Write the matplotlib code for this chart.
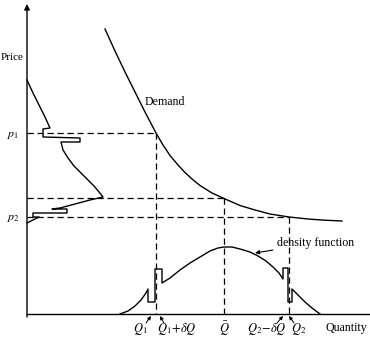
import matplotlib
matplotlib.use("Agg")
import matplotlib.pyplot as plt

plt.rcParams['font.family'] = ['Liberation Serif', 'DejaVu Serif']
plt.rcParams['mathtext.fontset'] = 'stix'

# ---- data (diagram coordinates: x to the right, y downward) ----
demand_x = [105, 115, 125, 135, 145, 156, 163, 170, 178, 185, 192, 200, 212, 224,
            240, 255, 270, 289, 310, 325, 342]
demand_y = [29, 51, 72, 92, 112, 133, 145, 155.5, 165, 172.5, 179, 185.5, 193, 198.5,
            205.5, 210, 214, 217, 219.2, 220.2, 221]

price_dens_x = [27, 33, 39, 45, 50, 43, 43, 80, 80, 61, 63, 68, 74, 80, 87, 94, 99, 103,
                90, 75, 60, 52, 67, 67, 33, 33, 39, 27]
price_dens_y = [80, 93, 105, 117, 128, 129, 137, 138, 142, 142, 150, 158, 166, 172, 179,
                186, 192, 197, 200, 204, 208, 209, 209, 213, 213, 217, 217, 223]

qty_dens_x = [120, 128, 135, 141, 146, 148, 148, 155, 155, 162, 162, 170, 180, 190, 200,
              210, 218, 224, 232, 240, 250, 258, 266, 273, 279, 283, 283, 288, 288, 292,
              292, 298, 305, 312, 320]
qty_dens_y = [314, 311, 306, 300, 293, 289, 302, 302, 269, 269, 283, 278, 270, 263, 257,
              251, 248, 247, 247, 249, 252, 256, 261, 267, 273, 279, 268, 268, 302, 302,
              289, 295, 302, 308, 314]

p_levels = [133, 198, 217]          # p1, modal price, p2
q_levels = [156, 224, 289]          # Q1, Q-bar, Q2
p_labels = [r'$p_1$', r'$p_2$']
q_labels = [r'$Q_1$', r'$Q_1\!+\!\delta Q$', r'$\bar{Q}$', r'$Q_2\!-\!\delta Q$', r'$Q_2$']

base_y = 314
axis_x = 27

fig = plt.figure(figsize=(3.70, 3.45), dpi=100)
ax = fig.add_axes([0, 0, 1, 1])
ax.set_xlim(0, 370)
ax.set_ylim(345, 0)
ax.axis('off')

lw = 1.0
# axes
ax.plot([axis_x, 370], [base_y, base_y], color='k', lw=lw)
ax.annotate('', xy=(axis_x, 4), xytext=(axis_x, 317),
            arrowprops=dict(arrowstyle='-|>', color='k', lw=lw, mutation_scale=8,
                            shrinkA=0, shrinkB=0))

# curves
ax.plot(demand_x, demand_y, color='k', lw=lw)
ax.plot(price_dens_x, price_dens_y, color='k', lw=lw)
ax.plot(qty_dens_x, qty_dens_y, color='k', lw=lw)

# dashed guides
dash = dict(color='k', lw=0.9, ls=(0, (5, 3)))
for py, qx in zip(p_levels, q_levels):
    ax.plot([axis_x, qx], [py, py], **dash)
    ax.plot([qx, qx], [py, base_y], **dash)

fs = 8.6
ax.text(0.5, 58, 'Price', ha='left', va='center', fontsize=fs - 0.6)
ax.text(145, 102, 'Demand', ha='left', va='center', fontsize=fs)
ax.text(13, p_levels[0] + 2, p_labels[0], ha='center', va='center', fontsize=fs)
ax.text(13, p_levels[2] + 1, p_labels[1], ha='center', va='center', fontsize=fs)
ax.text(325, 328, 'Quantity', ha='left', va='center', fontsize=fs)

ax.annotate('density function', xy=(255, 253), xytext=(277, 243), fontsize=fs,
            ha='left', va='center',
            arrowprops=dict(arrowstyle='-|>', color='k', lw=0.8, mutation_scale=6,
                            shrinkA=1, shrinkB=0))

arr = dict(arrowstyle='-|>', color='k', lw=0.7, mutation_scale=5, shrinkA=0, shrinkB=0)
label_x = [140, 177, 224, 267, 299]
targets = [(151, 316), (160, 316), None, (283, 316), (289, 316)]
starts = [(146, 323), (164, 323), None, (277, 323), (294, 323)]
for lab, lx, tg, st in zip(q_labels, label_x, targets, starts):
    ax.text(lx, 329, lab, ha='center', va='center', fontsize=fs + 0.4)
    if tg is not None:
        ax.annotate('', xy=tg, xytext=st, arrowprops=arr)

fig.savefig('out.png', dpi=100)
